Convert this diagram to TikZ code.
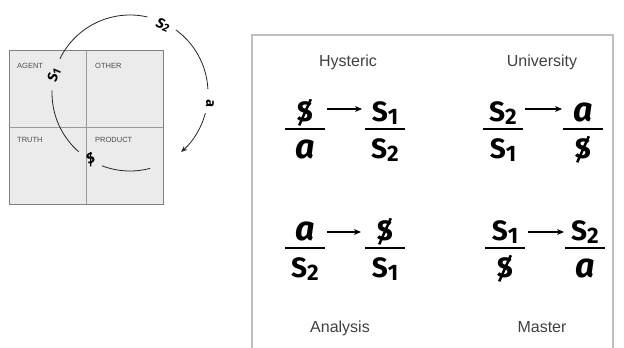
\documentclass[tikz,border=0pt]{standalone}
\usepackage{fontspec}
\usepackage{graphicx}
\usetikzlibrary{arrows.meta}
\setmainfont{Liberation Sans}
\newfontfamily\symf{Fira Sans}
\newcommand{\barS}{\ooalign{S\cr\hidewidth\raisebox{-0.2em}{\rotatebox[origin=c]{-24}{\rule{0.09em}{1.02em}}}\hidewidth\cr}}
\newcommand{\Sx}[1]{S\raisebox{-0.12em}{\scalebox{0.8}{#1}}}
\newcommand{\am}{{\fontsize{34}{34}\selectfont\itshape a}}
\tikzset{
 quad/.style={font=\fontsize{7.5}{7.5}\selectfont, text=black!70, anchor=west, inner sep=0},
 ttl/.style={font=\fontsize{16}{16}\selectfont, text=black!75, anchor=base},
 sym/.style={font=\symf\bfseries\fontsize{28}{28}\selectfont, anchor=base, inner sep=0},
 fbar/.style={line width=2.8},
 farrow/.style={-{Stealth[length=7,width=6]}, line width=1.4},
 circ/.style={line width=0.8, black!85},
 arclab/.style={font=\symf\bfseries\itshape\fontsize{14}{14}\selectfont, inner sep=0}
}
\begin{document}
\begin{tikzpicture}[x=1pt,y=1pt,yscale=-1]
\useasboundingbox[fill=white] (0,0) rectangle (624,348);
% left square
\draw[fill=black!8, draw=black!50, line width=1] (9,50) rectangle (163,204);
\draw[black!40, line width=0.6] (86,50) -- (86,204) (9,127) -- (163,127);
\node[quad] (ag) at (17,66) {AGENT};
\node[quad] (ot) at (95,66) {OTHER};
\node[quad] (tr) at (17,140) {TRUTH};
\node[quad] (pr) at (95,140) {PRODUCT};
% circle arcs
\coordinate (c) at (130,93);
\draw[circ] (c) ++(206:78) arc[start angle=206, end angle=283, radius=78];
\draw[circ] (c) ++(306:78) arc[start angle=306, end angle=357, radius=78];
\draw[circ, -{Stealth[length=6,width=5]}] (c) ++(15:78) arc[start angle=15, end angle=49, radius=78];
\draw[circ] (c) ++(182:78) arc[start angle=182, end angle=131, radius=78];
\draw[circ] (c) ++(111:78) arc[start angle=111, end angle=75, radius=78];
\node[arclab, rotate=75] (s1) at (54,75) {\Sx{1}};
\node[arclab, rotate=-22] (s2) at (163,25) {\Sx{2}};
\node[arclab, rotate=-95, font=\symf\bfseries\fontsize{14}{14}\selectfont] (aa) at (210,104) {a};
\node[arclab, rotate=25] (bs) at (91,160) {\barS};
% right panel
\draw[black!25, line width=1.8] (252,348) -- (252,35) -- (613,35) -- (613,348);
\node[ttl] (t1) at (348,66) {Hysteric};
\node[ttl] (t2) at (542,66) {University};
\node[ttl] (t3) at (340,332) {Analysis};
\node[ttl] (t4) at (542,332) {Master};
% Hysteric
\node[sym] (h1n) at (305,121) {\barS};
\node[sym] (h1d) at (305,158) {\am};
\draw[fbar] (285,129) -- (325,129);
\node[sym] (h2n) at (385,121) {\Sx{1}};
\node[sym] (h2d) at (385,158) {\Sx{2}};
\draw[fbar] (365,129) -- (405,129);
\coordinate (ha) at (327,109); \coordinate (hb) at (362,109);
\draw[farrow] (ha) -- (hb);
% University
\node[sym] (u1n) at (503,121) {\Sx{2}};
\node[sym] (u1d) at (503,158) {\Sx{1}};
\draw[fbar] (483,129) -- (523,129);
\node[sym] (u2n) at (583,121) {\am};
\node[sym] (u2d) at (583,158) {\barS};
\draw[fbar] (563,129) -- (603,129);
\coordinate (ua) at (525,109); \coordinate (ub) at (562,109);
\draw[farrow] (ua) -- (ub);
% Analysis
\node[sym] (a1n) at (305,240) {\am};
\node[sym] (a1d) at (305,277) {\Sx{2}};
\draw[fbar] (285,248) -- (325,248);
\node[sym] (a2n) at (385,240) {\barS};
\node[sym] (a2d) at (385,277) {\Sx{1}};
\draw[fbar] (365,248) -- (405,248);
\coordinate (aa1) at (327,232); \coordinate (ab1) at (361,232);
\draw[farrow] (aa1) -- (ab1);
% Master
\node[sym] (m1n) at (505,240) {\Sx{1}};
\node[sym] (m1d) at (505,277) {\barS};
\draw[fbar] (485,248) -- (525,248);
\node[sym] (m2n) at (585,240) {\Sx{2}};
\node[sym] (m2d) at (585,277) {\am};
\draw[fbar] (565,248) -- (605,248);
\coordinate (ma) at (528,232); \coordinate (mb) at (564,232);
\draw[farrow] (ma) -- (mb);
\end{tikzpicture}
\end{document}
